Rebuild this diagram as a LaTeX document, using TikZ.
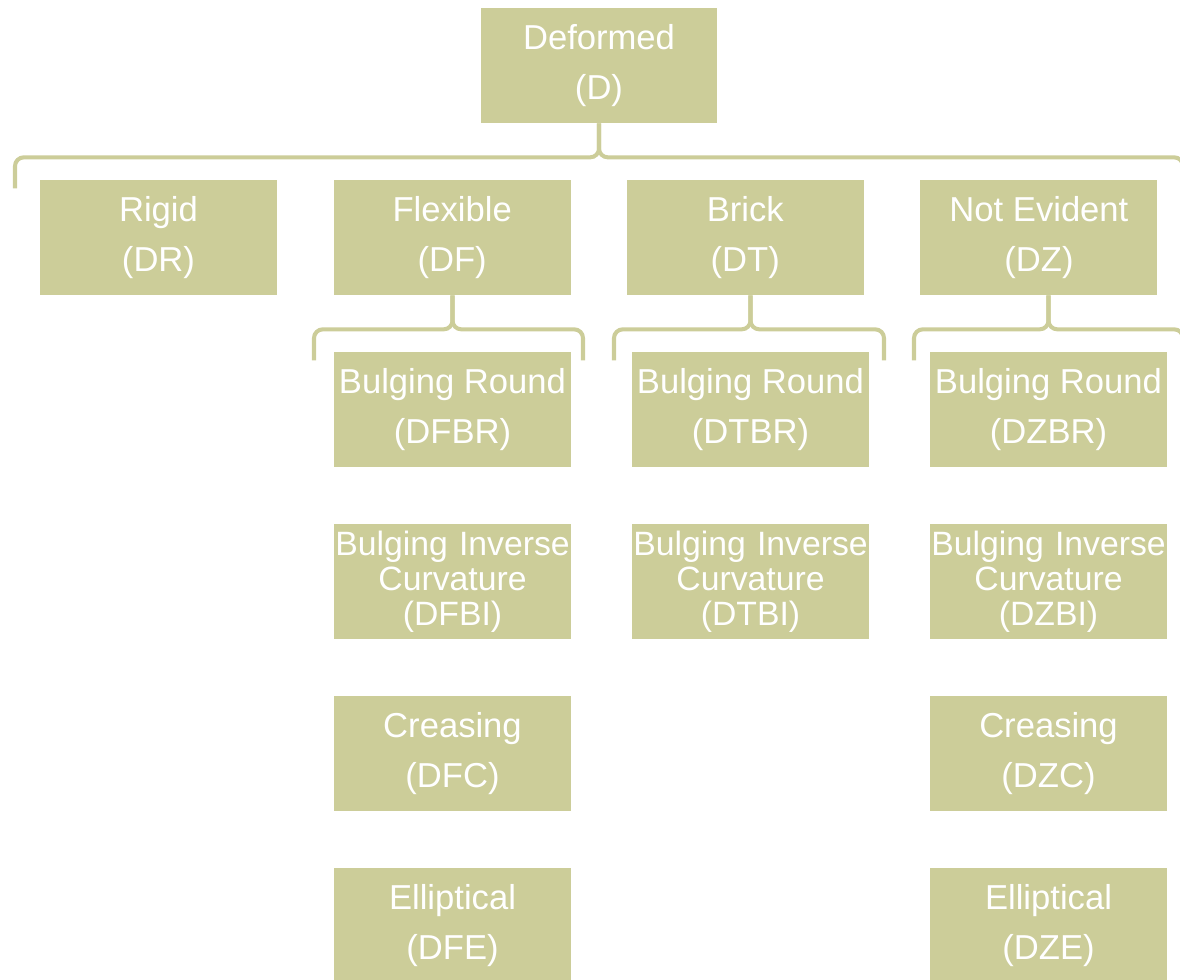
\documentclass[tikz,border=0pt]{standalone}
\usepackage{fontspec}
\setmainfont{Liberation Sans}
\usetikzlibrary{positioning}
\definecolor{boxolive}{RGB}{204,205,153}

\begin{document}
\begin{tikzpicture}[x=0.02cm, y=-0.02cm,
    box/.style={fill=boxolive, text=white, minimum width=4.74cm, minimum height=2.3cm,
      inner sep=0pt, align=center, font=\fontsize{19.7}{28.3}\selectfont},
    tallbox/.style={box, text width=4.74cm, font=\fontsize{19.2}{19.8}\selectfont},
    grouping/.style={draw=boxolive, line width=2.3pt, rounded corners=5pt}]
    \useasboundingbox (0,0) rectangle (1180,980);

    % Top level
    \node[box] (D) at (599,65.5) {Deformed\\(D)};

    % First row
    \node[box] (DR) at (158.5,237.5) {Rigid\\(DR)};
    \node[box, right=1.12cm of DR] (DF) {Flexible\\(DF)};
    \node[box, right=1.11cm of DF] (DT) {Brick\\(DT)};
    \node[box, right=1.12cm of DT] (DZ) {Not Evident\\(DZ)};

    % Sub types under each column
    \foreach \c/\x in {F/452.5, T/750.5, Z/1048.5} {
      \node[box] (D\c BR) at (\x,409.5) {Bulging Round\\(D\c BR)};
      \node[tallbox] (D\c BI) at (\x,581.5) {Bulging Inverse\\Curvature\\(D\c BI)};
    }
    \foreach \c/\x in {F/452.5, Z/1048.5} {
      \node[box] (D\c C) at (\x,753.5) {Creasing\\(D\c C)};
      \node[box] (D\c E) at (\x,925.5) {Elliptical\\(D\c E)};
    }

    % Braces from parent to children
    \foreach \up/\tx/\xl/\xr in {D/D/15/1183, DF/DFBR/314/583, DT/DTBR/614/884, DZ/DZBR/914/1183} {
      \coordinate (tip) at (\tx |- \up.south);
      \path (tip) ++(0,34) coordinate (bar);
      \draw[grouping] (\xl,0 |- bar) ++(0,31) |- (bar) -- (tip);
      \draw[grouping] (\xr,0 |- bar) ++(0,31) |- (bar) -- (tip);
    }
\end{tikzpicture}
\end{document}
